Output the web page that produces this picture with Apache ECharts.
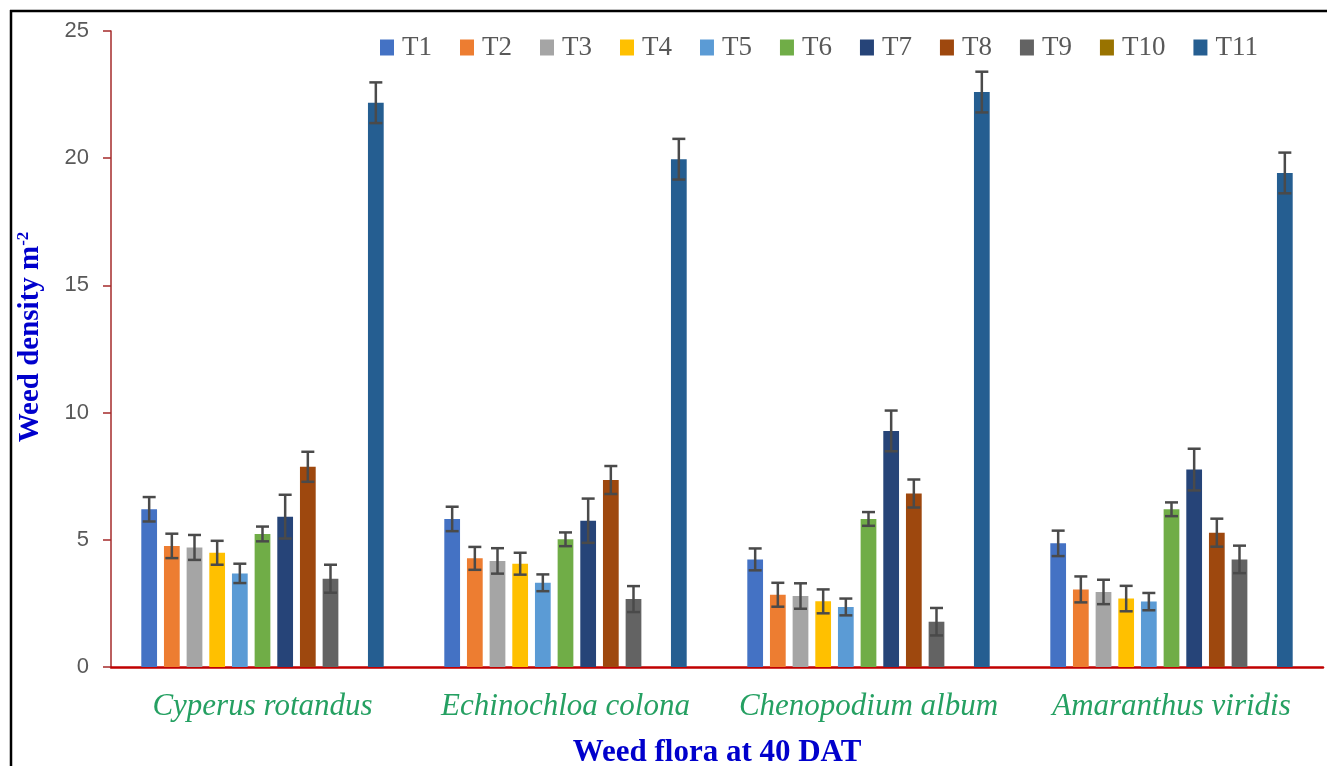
<!DOCTYPE html>
<html>
<head>
<meta charset="utf-8">
<script src="https://cdn.jsdelivr.net/npm/echarts@6/dist/echarts.min.js"></script>
<style>html,body{margin:0;padding:0;background:#fff}#c{width:1327px;height:766px}</style>
</head>
<body>
<div id="c"></div>
<script>
var categories = ['Cyperus rotandus', 'Echinochloa colona', 'Chenopodium album', 'Amaranthus viridis'];
var treatments = ['T1','T2','T3','T4','T5','T6','T7','T8','T9','T10','T11'];
var yTicks = [0, 5, 10, 15, 20, 25];

var T1  = [6.20, 5.82, 4.23, 4.86];
var T2  = [4.76, 4.27, 2.84, 3.05];
var T3  = [4.70, 4.17, 2.79, 2.95];
var T4  = [4.49, 4.06, 2.58, 2.69];
var T5  = [3.68, 3.31, 2.36, 2.57];
var T6  = [5.23, 5.02, 5.82, 6.20];
var T7  = [5.91, 5.75, 9.28, 7.76];
var T8  = [7.87, 7.35, 6.82, 5.28];
var T9  = [3.47, 2.67, 1.78, 4.23];
var T10 = [null, null, null, null];
var T11 = [22.18, 19.96, 22.60, 19.42];

var E1  = [0.48, 0.48, 0.43, 0.50];
var E2  = [0.48, 0.45, 0.47, 0.51];
var E3  = [0.49, 0.50, 0.50, 0.48];
var E4  = [0.47, 0.43, 0.47, 0.50];
var E5  = [0.38, 0.33, 0.33, 0.34];
var E6  = [0.29, 0.27, 0.27, 0.27];
var E7  = [0.86, 0.87, 0.80, 0.82];
var E8  = [0.59, 0.55, 0.55, 0.55];
var E9  = [0.55, 0.51, 0.54, 0.54];
var E10 = [null, null, null, null];
var E11 = [0.80, 0.80, 0.80, 0.80];

var values = [T1,T2,T3,T4,T5,T6,T7,T8,T9,T10,T11];
var errors = [E1,E2,E3,E4,E5,E6,E7,E8,E9,E10,E11];
var colors = ['#4472C4','#ED7D31','#A5A5A5','#FFC000','#5B9BD5','#70AD47','#264478','#9E480E','#636363','#997300','#255E91'];

var BAR_GAP = 0.44, CAT_GAP = 0.20;
var nBars = treatments.length;

var series = treatments.map(function (t, i) {
  return {
    name: t, type: 'bar', data: values[i],
    barGap: (BAR_GAP * 100) + '%', barCategoryGap: (CAT_GAP * 100) + '%',
    itemStyle: { color: colors[i] }, z: 2
  };
});

var errData = [];
treatments.forEach(function (t, i) {
  values[i].forEach(function (v, c) {
    if (v != null && errors[i][c] != null) errData.push([c, v, errors[i][c], i]);
  });
});

series.push({
  type: 'custom', name: 'err', z: 5, silent: true,
  data: errData,
  encode: { x: 0, y: 1 },
  renderItem: function (params, api) {
    var c = api.value(0), v = api.value(1), e = api.value(2), idx = api.value(3);
    var band = api.size([1, 0])[0];
    var usable = band * (1 - CAT_GAP);
    var bw = usable / (nBars + (nBars - 1) * BAR_GAP);
    var center = api.coord([c, 0])[0];
    var x = center - usable / 2 + idx * bw * (1 + BAR_GAP) + bw / 2;
    var yHi = api.coord([c, v + e])[1];
    var yLo = api.coord([c, v - e])[1];
    var hw = 6.5;
    var st = { stroke: '#4a4a4a', lineWidth: 2.5 };
    return {
      type: 'group',
      children: [
        { type: 'line', shape: { x1: x, y1: yHi, x2: x, y2: yLo }, style: st },
        { type: 'line', shape: { x1: x - hw, y1: yHi, x2: x + hw, y2: yHi }, style: st },
        { type: 'line', shape: { x1: x - hw, y1: yLo, x2: x + hw, y2: yLo }, style: st }
      ]
    };
  }
});

var chart = echarts.init(document.getElementById('c'), null, { renderer: 'canvas' });
chart.setOption({
  animation: false,
  backgroundColor: '#ffffff',
  grid: { left: 111, right: 4, top: 31, bottom: 99, containLabel: false, outerBoundsMode: 'none' },
  legend: {
    data: treatments,
    left: 375, top: 29,
    itemWidth: 14, itemHeight: 16, itemGap: 28,
    icon: 'rect',
    textStyle: { fontFamily: 'Liberation Serif', fontSize: 27, color: '#595959', padding: [0, 0, 0, 3] }
  },
  xAxis: {
    type: 'category', data: categories,
    axisLine: { lineStyle: { color: '#C00000', width: 2.5 } },
    axisTick: { show: false },
    axisLabel: { interval: 0, fontFamily: 'Liberation Serif', fontStyle: 'italic', fontSize: 31, color: '#25A062', margin: 24 },
    name: 'Weed flora at 40 DAT',
    nameLocation: 'middle', nameGap: 70,
    nameTextStyle: { fontFamily: 'Liberation Serif', fontWeight: 'bold', fontSize: 31, color: '#0000CC' }
  },
  yAxis: {
    type: 'value', min: yTicks[0], max: yTicks[yTicks.length - 1], interval: yTicks[1] - yTicks[0],
    axisLine: { show: true, lineStyle: { color: '#A52A2A', width: 1.5 } },
    axisTick: { show: true, inside: false, length: 8, lineStyle: { color: '#A52A2A', width: 1.5 } },
    splitLine: { show: false },
    axisLabel: { fontFamily: 'Liberation Sans', fontSize: 22, color: '#595959', margin: 22 },
    name: '{a|Weed density m}{b|-2}',
    nameLocation: 'middle', nameGap: 64,
    nameTextStyle: {
      padding: [0, 0, 0, 24],
      rich: {
        a: { fontFamily: 'Liberation Serif', fontWeight: 'bold', fontSize: 29, color: '#0000CC', lineHeight: 32 },
        b: { fontFamily: 'Liberation Serif', fontWeight: 'bold', fontSize: 17, color: '#0000CC', lineHeight: 32, verticalAlign: 'top', padding: [0, 0, 12, 0] }
      }
    }
  },
  graphic: [
    { type: 'line', shape: { x1: 10, y1: 11, x2: 1327, y2: 11 }, style: { stroke: '#000', lineWidth: 2.5 }, z: 100 },
    { type: 'line', shape: { x1: 11, y1: 10, x2: 11, y2: 766 }, style: { stroke: '#000', lineWidth: 2.5 }, z: 100 }
  ],
  series: series
});
</script>
</body>
</html>
